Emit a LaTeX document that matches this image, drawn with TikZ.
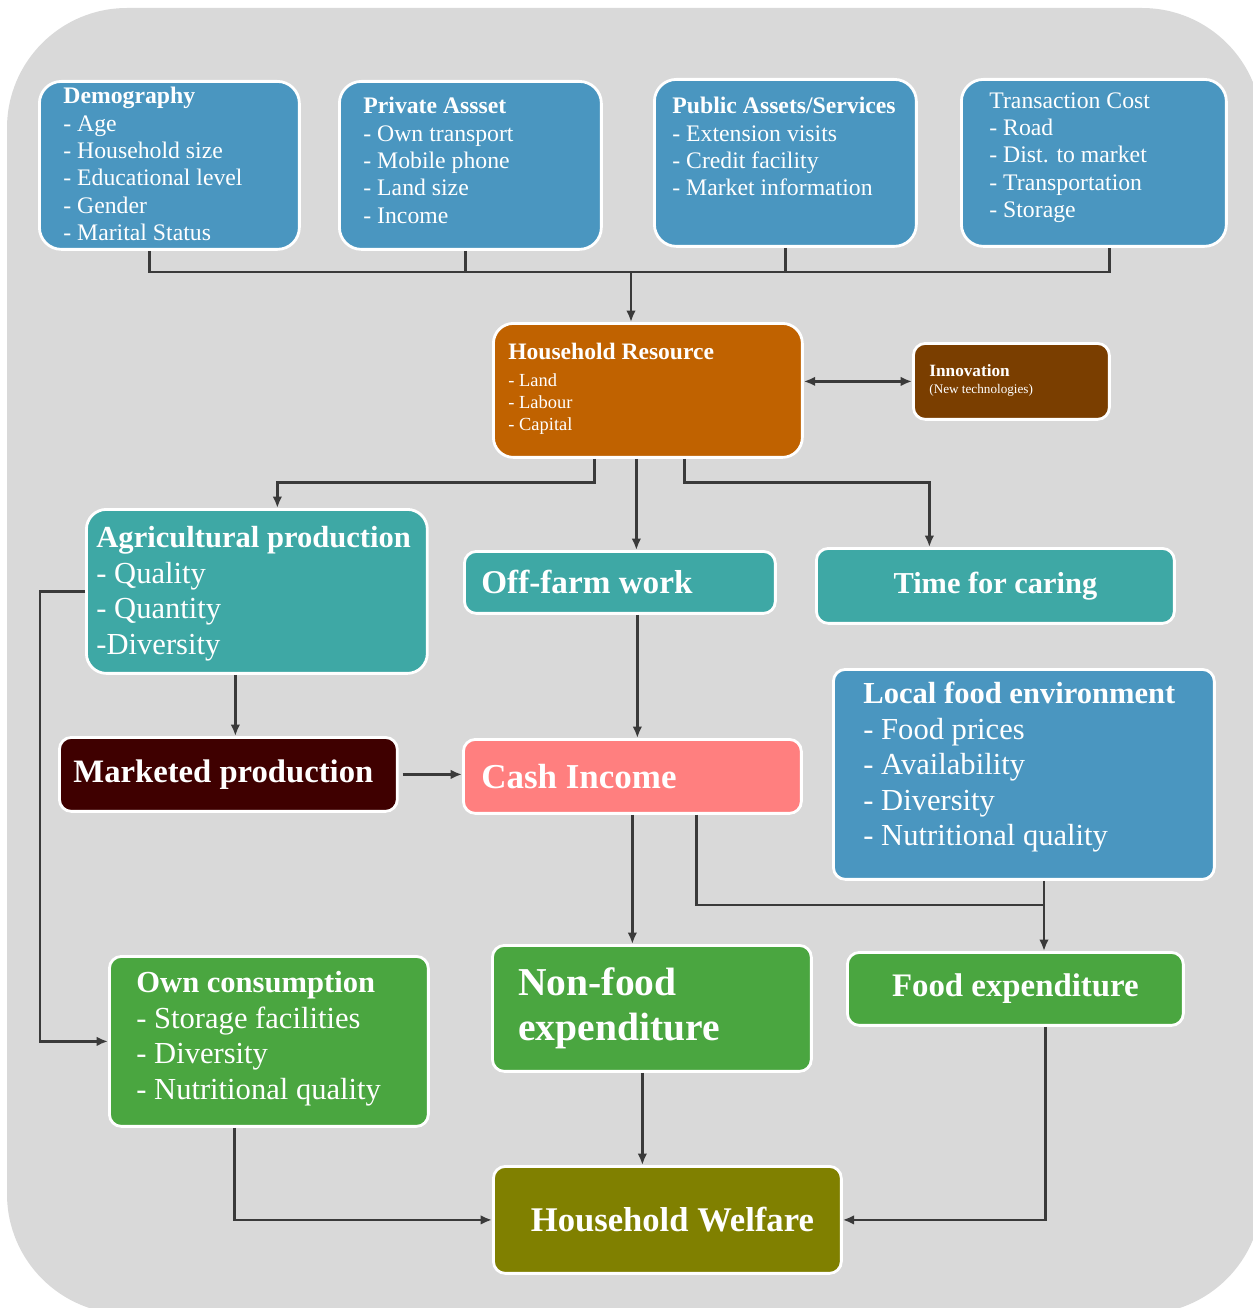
\documentclass[tikz,border=0pt]{standalone}
\usepackage{fontspec}
\setmainfont{Liberation Serif}
\usetikzlibrary{arrows.meta,calc}

\definecolor{panelgray}{RGB}{217,217,217}
\definecolor{wiregray}{RGB}{58,58,58}
\definecolor{infoblue}{RGB}{74,150,192}
\definecolor{resorange}{RGB}{192,98,0}
\definecolor{innobrown}{RGB}{122,62,0}
\definecolor{farmteal}{RGB}{62,168,165}
\definecolor{marketred}{RGB}{63,0,0}
\definecolor{cashpink}{RGB}{255,127,127}
\definecolor{spendgreen}{RGB}{74,166,64}
\definecolor{welfareolive}{RGB}{128,128,0}

% text block: width, height, top gap, left gap, content
\newcommand{\panel}[5]{\parbox[t][#2][t]{#1}{\vspace*{#3}\leftskip=#4\rightskip=0pt plus 1fil #5}}
% one line, vertically centred: width, height, left gap, content
\newcommand{\rowpanel}[4]{\parbox[c][#2][c]{#1}{\leftskip=#3\rightskip=0pt plus 1fil #4}}
\newcommand{\fs}[2]{\fontsize{#1}{#2}\selectfont}

\tikzset{
  blk/.style={draw=white, line width=1.6pt, fill=#1, text=white,
    rounded corners=0.24cm, inner sep=0pt, anchor=north west},
  link/.style={draw=wiregray, line width=1.5pt, -{Latex[length=6.5pt,width=5.5pt]}},
  bus/.style={draw=wiregray, line width=1.5pt}
}

\begin{document}
\begin{tikzpicture}[x=0.02cm, y=-0.02cm]
\useasboundingbox (0,0) rectangle (1253,1308);
\fill[panelgray, rounded corners=2.4cm] (7,8) rectangle (1262,1314);

% top row
\node[blk=infoblue, rounded corners=0.44cm] (demo) at (38,80)
  {\panel{5.2cm}{3.36cm}{0.12cm}{0.48cm}{\fs{13.5}{15.55}\textbf{Demography}\\ - Age\\ - Household size\\ - Educational level\\ - Gender\\ - Marital Status}};
\node[blk=infoblue, rounded corners=0.44cm] (priv) at (338,80)
  {\panel{5.24cm}{3.36cm}{0.32cm}{0.48cm}{\fs{13.5}{15.55}\textbf{Private Assset}\\ - Own transport\\ - Mobile phone\\ - Land size\\ - Income}};
\node[blk=infoblue, rounded corners=0.44cm] (pub) at (653,78)
  {\panel{5.24cm}{3.34cm}{0.36cm}{0.36cm}{\fs{13.5}{15.55}\textbf{Public Assets/Services}\\ - Extension visits\\ - Credit facility\\ - Market information}};
\node[blk=infoblue, rounded corners=0.44cm] (trans) at (960,78)
  {\panel{5.3cm}{3.34cm}{0.26cm}{0.56cm}{\fs{13.5}{15.55}Transaction Cost\\ - Road\\ - Dist. to market\\ - Transportation\\ - Storage}};

% resources
\node[blk=resorange, rounded corners=0.4cm] (res) at (492,322)
  {\panel{6.18cm}{2.68cm}{0.4cm}{0.3cm}{\fs{13.4}{13.4}\textbf{Household Resource}\\[3pt] \fs{10.5}{12.5}- Land\\ - Labour\\ - Capital}};
\node[blk=innobrown] (innov) at (912,342)
  {\panel{3.92cm}{1.52cm}{0.42cm}{0.32cm}{\fs{9.8}{10.2}\textbf{Innovation}\\ \fs{7.5}{9.8}(New technologies)}};

% activities
\node[blk=farmteal, rounded corners=0.4cm] (agri) at (85,508)
  {\panel{6.82cm}{3.28cm}{0.34cm}{0.2cm}{\fs{17.4}{20.2}\textbf{Agricultural production}\\ - Quality\\ - Quantity\\ -Diversity}};
\node[blk=farmteal] (offfarm) at (463,550)
  {\rowpanel{6.22cm}{1.24cm}{0.34cm}{\fs{18.9}{19}\textbf{Off-farm work}}};
\node[blk=farmteal, minimum width=7.16cm, minimum height=1.5cm] (caring) at (815,547)
  {\fs{17.3}{18}\textbf{Time for caring}};
\node[blk=infoblue] (localfood) at (832,668)
  {\panel{7.62cm}{4.2cm}{0.26cm}{0.6cm}{\fs{17.4}{20.2}\textbf{Local food environment}\\ - Food prices\\ - Availability\\ - Diversity\\ - Nutritional quality}};
\node[blk=marketred] (market) at (58,736)
  {\rowpanel{6.76cm}{1.48cm}{0.28cm}{\fs{18.6}{19}\textbf{Marketed production}}};
\node[blk=cashpink] (cash) at (462,738)
  {\rowpanel{6.76cm}{1.48cm}{0.36cm}{\fs{19.9}{20}\textbf{Cash Income}}};

% uses
\node[blk=spendgreen] (owncons) at (108,955)
  {\panel{6.38cm}{3.4cm}{0.3cm}{0.54cm}{\fs{17.4}{20.2}\textbf{Own consumption}\\ - Storage facilities\\ - Diversity\\ - Nutritional quality}};
\node[blk=spendgreen] (nonfood) at (491,944)
  {\panel{6.38cm}{2.52cm}{0.44cm}{0.52cm}{\fs{22.5}{26}\textbf{Non-food\\ expenditure}}};
\node[blk=spendgreen, minimum width=6.72cm, minimum height=1.46cm] (foodexp) at (846,951)
  {\fs{18.7}{19}\textbf{Food expenditure}};
\node[blk=welfareolive, minimum width=6.96cm, minimum height=2.14cm] (welfare) at (492,1165)
  {\hspace*{0.2cm}\fs{19.7}{20}\textbf{Household Welfare}};

% connectors
\coordinate (hub) at (631,272);
\coordinate (join) at (1044,905);
\draw[bus] ([xshift=-0.4cm]demo.south) |- (hub) -| ([xshift=0.31cm]trans.south);
\draw[bus] ([xshift=-0.1cm]priv.south) -- ([xshift=-0.1cm]priv.south |- hub);
\draw[bus] (pub.south) -- (pub.south |- hub);
\draw[link] (hub) -- (hub |- res.north);
\draw[link, {Latex[length=6.5pt,width=5.5pt]}-{Latex[length=6.5pt,width=5.5pt]}] (res.east |- innov.west) -- (innov.west);

\draw[link] ([xshift=-1.07cm]res.south) -- ++(0,-0.48cm) -| ([xshift=0.41cm]agri.north);
\draw[link] ([xshift=-0.23cm]res.south) -- ([xshift=-0.23cm]res.south |- offfarm.north);
\draw[link] ([xshift=0.73cm]res.south) -- ++(0,-0.48cm) -| ([xshift=-1.32cm]caring.north);

\draw[link] ([xshift=-0.43cm]agri.south) -- ([xshift=-0.43cm]agri.south |- market.north);
\draw[link] ([xshift=0.35cm]offfarm.south) -- ([xshift=0.35cm]offfarm.south |- cash.north);
\draw[link] ([xshift=0.08cm]market.east) -- (market.east -| cash.west);
\draw[link] (agri.west) -- ++(-0.9cm,0) |- (owncons.west);

\draw[link] (cash.south) -- (cash.south |- nonfood.north);
\draw[bus] ([xshift=1.28cm]cash.south) |- (join);
\draw[bus] (localfood.south -| join) -- (join);
\draw[link] (join) -- (join |- foodexp.north);

\draw[link] ([xshift=-0.19cm]nonfood.south) -- ([xshift=-0.19cm]nonfood.south |- welfare.north);
\draw[link] ([xshift=-0.69cm]owncons.south) |- (welfare.west);
\draw[link] ([xshift=0.6cm]foodexp.south) |- (welfare.east);
\end{tikzpicture}
\end{document}
